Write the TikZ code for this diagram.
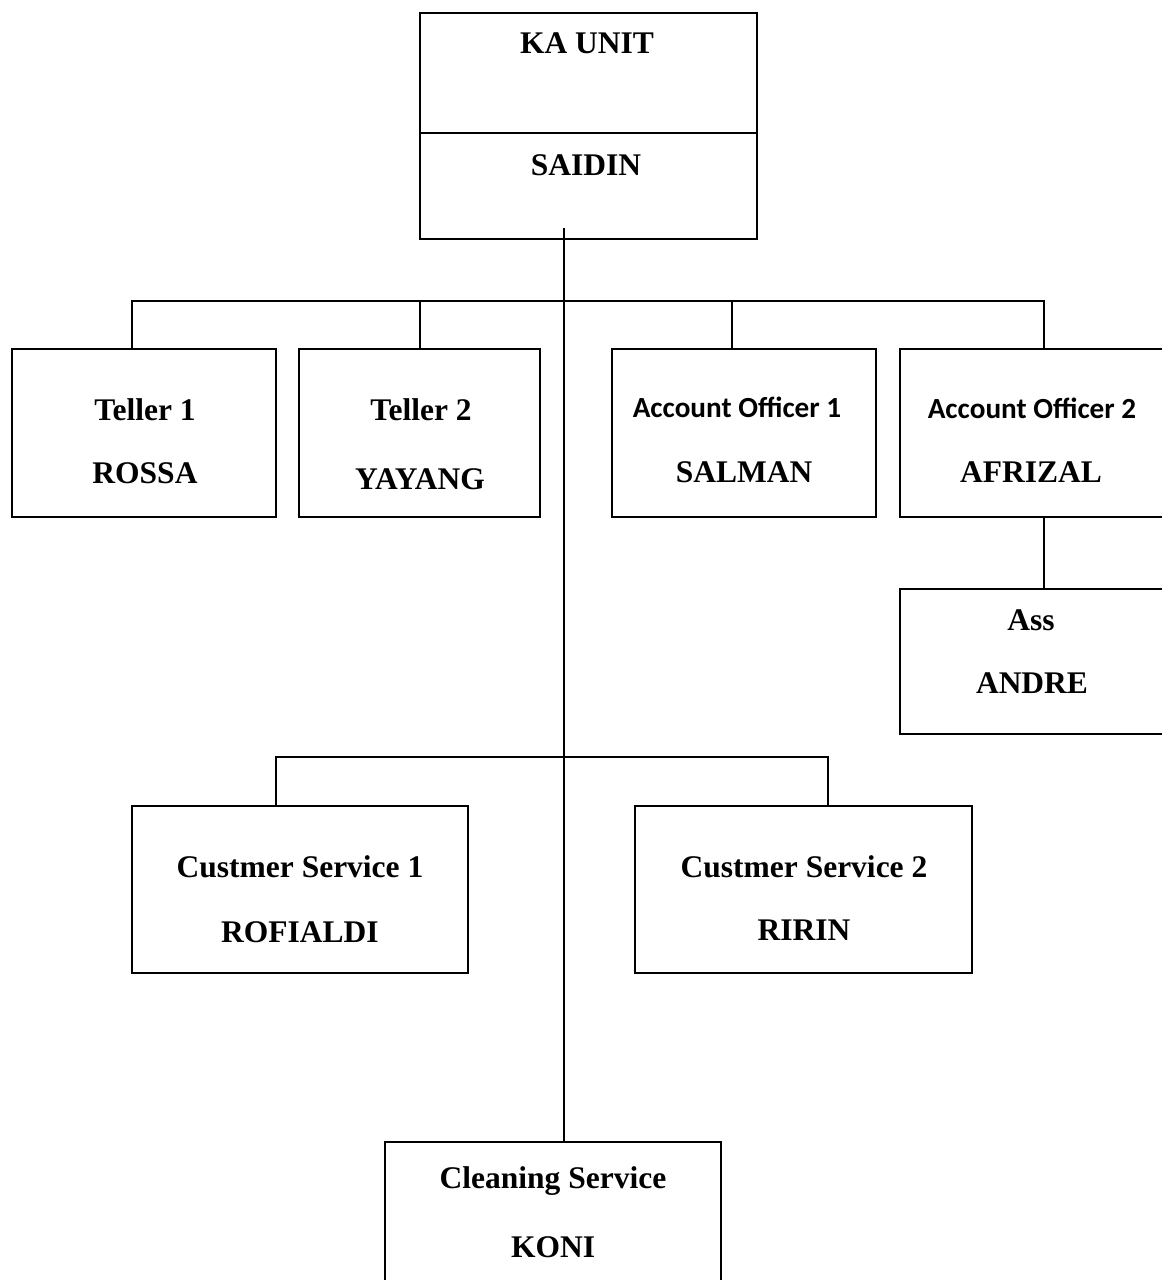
\documentclass[tikz,border=0pt]{standalone}
\usepackage{fontspec}
\setmainfont{Liberation Serif}
\newfontfamily\carlitofont{Carlito}
\begin{document}
\begin{tikzpicture}[x=0.5pt,y=-0.5pt,
  box/.style={draw,line width=1pt,inner sep=0pt,outer sep=0pt,rectangle},
  ln/.style={line width=1pt},
  lbl/.style={anchor=base,inner sep=0pt,font=\fontsize{15.75}{18}\selectfont\bfseries},
  lbs/.style={anchor=base,inner sep=0pt,font=\fontsize{14.6}{17}\selectfont\carlitofont\bfseries}]
\useasboundingbox[fill=white] (0,0) rectangle (1162,1280);
% boxes
\node[box,minimum width=168.5pt,minimum height=113pt] (top) at (588.5,126) {};
\node[box,minimum width=132pt,minimum height=84pt] (t1) at (144,433) {};
\node[box,minimum width=120.5pt,minimum height=84pt] (t2) at (419.5,433) {};
\node[box,minimum width=132pt,minimum height=84pt] (ao1) at (744,433) {};
\node[box,minimum width=136pt,minimum height=84pt] (ao2) at (1036,433) {};
\node[box,minimum width=136pt,minimum height=72.5pt] (ass) at (1036,661.5) {};
\node[box,minimum width=168pt,minimum height=83.5pt] (cs1) at (300,889.5) {};
\node[box,minimum width=168.5pt,minimum height=83.5pt] (cs2) at (803.5,889.5) {};
\node[box,minimum width=168pt,minimum height=79pt] (clean) at (553,1221) {};
% divider in top box
\coordinate (div) at (0,133);
\draw[ln] (top.west |- div) -- (top.east |- div);
% connectors
\coordinate (trunk) at (564,228);
\draw[ln] (trunk) -- (trunk |- clean.north);
\coordinate (d1) at (132,301);
\coordinate (d2) at (420,301);
\coordinate (d3) at (732,301);
\coordinate (d4) at (1044,301);
\draw[ln] (d1 |- t1.north) -- (d1) -- (d4) -- (d4 |- ao2.north);
\draw[ln] (d2) -- (d2 |- t2.north);
\draw[ln] (d3) -- (d3 |- ao1.north);
\draw[ln] (d4 |- ao2.south) -- (d4 |- ass.north);
\coordinate (e1) at (276,757);
\coordinate (e2) at (828,757);
\draw[ln] (e1 |- cs1.north) -- (e1) -- (e2) -- (e2 |- cs2.north);
% labels
\node[lbl] (katext) at (587,53) {KA UNIT};
\node[lbl] (saidin) at (586,175) {SAIDIN};
\node[lbl] (t1a) at (145,420) {Teller 1};
\node[lbl] (t1b) at (145,483) {ROSSA};
\node[lbl] (t2a) at (421,420) {Teller 2};
\node[lbl] (t2b) at (420,489) {YAYANG};
\node[lbs] (ao1a) at (737,417) {Account Officer 1};
\node[lbl] (ao1b) at (744,482) {SALMAN};
\node[lbs] (ao2a) at (1032,418) {Account Officer 2};
\node[lbl] (ao2b) at (1031,482) {AFRIZAL};
\node[lbl] (assa) at (1031,630) {Ass};
\node[lbl] (assb) at (1032,693) {ANDRE};
\node[lbl] (cs1a) at (300,877) {Custmer Service 1};
\node[lbl] (cs1b) at (300,942) {ROFIALDI};
\node[lbl] (cs2a) at (804,877) {Custmer Service 2};
\node[lbl] (cs2b) at (804,940) {RIRIN};
\node[lbl] (cla) at (553,1188) {Cleaning Service};
\node[lbl] (clb) at (553,1257) {KONI};
\end{tikzpicture}
\end{document}
